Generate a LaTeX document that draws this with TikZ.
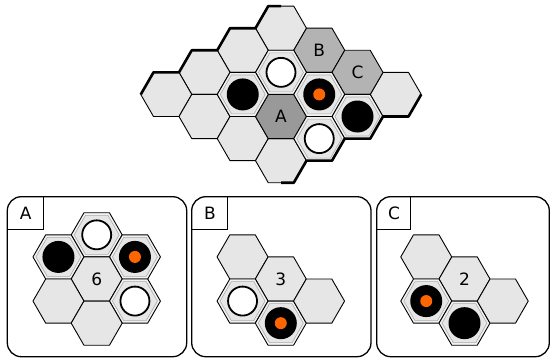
\documentclass[tikz,border=0pt]{standalone}
\usepackage{fontspec}
\setmainfont{DejaVu Sans}
\definecolor{hexlight}{HTML}{E6E6E6}
\definecolor{hexpale}{HTML}{F2F2F2}
\definecolor{hexdark}{HTML}{999999}
\definecolor{hexmid}{HTML}{B3B3B3}
\definecolor{ringgray}{HTML}{AAAAAA}
\definecolor{dotorange}{HTML}{FF6600}
\def\R{25.5}
\def\Ri{22.5}
\tikzset{
  hexcell/.pic={\path[pic actions] (0:\R) -- (60:\R) -- (120:\R) -- (180:\R) -- (240:\R) -- (300:\R) -- cycle;},
  innerhex/.pic={\path[pic actions] (0:\Ri) -- (60:\Ri) -- (120:\Ri) -- (180:\Ri) -- (240:\Ri) -- (300:\Ri) -- cycle;},
  cellstyle/.style={draw=black, line width=0.9pt, line join=round},
  innerstyle/.style={draw=ringgray, line width=0.6pt, fill=hexlight},
  blackstone/.style={circle, fill=black, minimum size=32pt, inner sep=0pt},
  whitestone/.style={circle, fill=white, draw=black, line width=1.8pt, minimum size=29pt, inner sep=0pt},
  orangedot/.style={circle, fill=dotorange, minimum size=12pt, inner sep=0pt},
  edgeline/.style={line width=2.6pt, line join=round},
  panelbox/.style={draw=black, line width=1.3pt, rounded corners=14pt},
  labelbox/.style={draw=black, line width=1pt},
  celltext/.style={font=\fontsize{17}{20}\selectfont, inner sep=0pt},
}
\newcommand\plaincell[3]{\pic[cellstyle,fill=#3] at ({#1},{#2}) {hexcell};}
\newcommand\stonecell[2]{\pic[cellstyle,fill=hexpale] at ({#1},{#2}) {hexcell};\pic[innerstyle] at ({#1},{#2}) {innerhex};}
\begin{document}
\begin{tikzpicture}[x=1pt,y=-1pt]
\useasboundingbox (0,0) rectangle (550,362);
% ---------- main board ----------
\foreach \a/\b in {0/0,0/1,0/2,0/3,1/3,2/3,3/0,3/3}{
  \plaincell{281+38.25*(\a-\b)}{28.2+22.08*(\a+\b)}{hexlight}
}
\plaincell{281+38.25*1}{28.2+22.08*1}{hexmid}   % B
\plaincell{281+38.25*2}{28.2+22.08*2}{hexmid}   % C
\plaincell{281}{28.2+22.08*4}{hexdark}          % A
\foreach \a/\b in {1/1,1/2,2/1,3/1,3/2}{
  \stonecell{281+38.25*(\a-\b)}{28.2+22.08*(\a+\b)}
}
\node[celltext] (lblB) at (319.25,50.28) {B};
\node[celltext] (lblC) at (357.5,72.36) {C};
\node[celltext] (lblA) at (281,116.52) {A};
\node[whitestone] (mw1) at (281,72.36) {};
\node[blackstone] (mb1) at (242.75,94.44) {};
\node[blackstone] (mo1) at (319.25,94.44) {};
\node[orangedot] (mo1d) at (mo1) {};
\node[blackstone] (mb2) at (357.5,116.52) {};
\node[whitestone] (mw2) at (319.25,138.6) {};
% thick borders
\draw[edgeline] (140.75,94.44) \foreach \i in {0,1,2}{ -- ++(12.75,-22.08) -- ++(25.5,0) } -- ++(12.75,-22.08) -- ++(12.75,0);
\draw[edgeline] (421.25,94.44) \foreach \i in {0,1,2}{ -- ++(-12.75,22.08) -- ++(-25.5,0) } -- ++(-12.75,22.08) -- ++(-12.75,0);
% ---------- panel A ----------
\draw[panelbox] (7.3,196.7) rectangle (186.7,356.7);
\draw[labelbox] (7.3,229.3) -| (43.3,196.7);
\node[celltext] (pA) at (25.8,213.5) {A};
\stonecell{96.7}{279-44.16}
\stonecell{96.7-38.25}{279-22.08}
\stonecell{96.7+38.25}{279-22.08}
\plaincell{96.7}{279}{hexlight}
\plaincell{96.7-38.25}{279+22.08}{hexlight}
\stonecell{96.7+38.25}{279+22.08}
\plaincell{96.7}{279+44.16}{hexlight}
\node[celltext] (nA) at (96.7,279) {6};
\node[whitestone] (aw1) at (96.7,234.84) {};
\node[blackstone] (ab1) at (58.45,256.92) {};
\node[blackstone] (ao1) at (134.95,256.92) {};
\node[orangedot] (ao1d) at (ao1) {};
\node[whitestone] (aw2) at (134.95,301.08) {};
% ---------- panel B ----------
\draw[panelbox] (191.7,196.7) rectangle (371,356.7);
\draw[labelbox] (191.7,229.3) -| (227.7,196.7);
\node[celltext] (pB) at (210,213.5) {B};
\plaincell{280.8-38.25}{279-22.08}{hexlight}
\plaincell{280.8}{279}{hexlight}
\stonecell{280.8-38.25}{279+22.08}
\stonecell{280.8}{279+44.16}
\plaincell{280.8+38.25}{279+22.08}{hexlight}
\node[celltext] (nB) at (280.8,279) {3};
\node[whitestone] (bw1) at (242.55,301.08) {};
\node[blackstone] (bo1) at (280.8,323.16) {};
\node[orangedot] (bo1d) at (bo1) {};
% ---------- panel C ----------
\draw[panelbox] (376.7,196.7) rectangle (549.3,356.7);
\draw[labelbox] (376.7,229.3) -| (410.7,196.7);
\node[celltext] (pC) at (394,213.5) {C};
\plaincell{464.5-38.25}{279-22.08}{hexlight}
\plaincell{464.5}{279}{hexlight}
\stonecell{464.5-38.25}{279+22.08}
\stonecell{464.5}{279+44.16}
\plaincell{464.5+38.25}{279+22.08}{hexlight}
\node[celltext] (nC) at (464.5,279) {2};
\node[blackstone] (co1) at (426.25,301.08) {};
\node[orangedot] (co1d) at (co1) {};
\node[blackstone] (cb1) at (464.5,323.16) {};
\end{tikzpicture}
\end{document}
